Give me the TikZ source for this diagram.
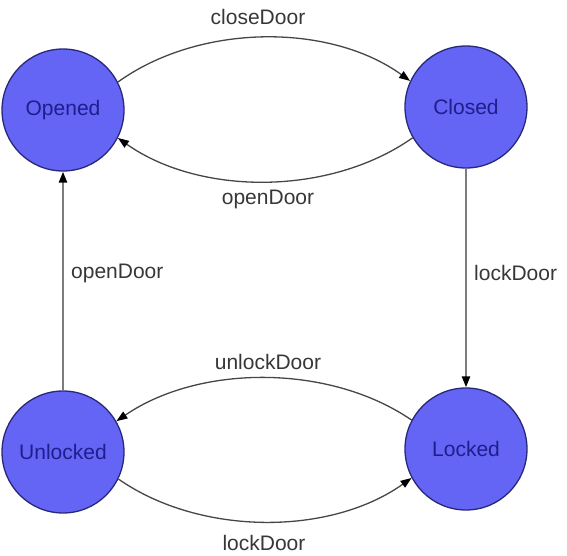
\documentclass[tikz,border=0pt]{standalone}
\usepackage{fontspec}
\setmainfont{Liberation Sans}
\usetikzlibrary{arrows.meta}
\definecolor{statefill}{RGB}{100,100,245}
\definecolor{stateedge}{RGB}{40,40,120}
\definecolor{statetext}{RGB}{30,30,140}
\definecolor{arcline}{RGB}{70,70,70}
\definecolor{vline}{RGB}{125,125,125}
\definecolor{labeltext}{RGB}{55,55,55}
\tikzset{
  statenode/.style={circle, draw=stateedge, line width=1.3pt, fill=statefill,
    minimum size=122pt, inner sep=0pt, text=statetext, font=\fontsize{21}{24}\selectfont},
  arcconn/.style={draw=arcline, line width=1.3pt, -{Triangle[length=11pt,width=8pt,color=black]}},
  vconn/.style={draw=vline, line width=2.4pt, -{Triangle[length=11pt,width=8pt,color=black]}},
  tlabel/.style={text=labeltext, font=\fontsize{21}{24}\selectfont, inner sep=0pt}
}
\begin{document}
\begin{tikzpicture}[x=1pt,y=-1pt]
\useasboundingbox (0,0) rectangle (567,556);
\node[statenode] (Opened) at (63,110) {Opened};
\node[statenode] (Closed) at (466,107) {Closed};
\node[statenode] (Unlocked) at (63,452) {Unlocked};
\node[statenode] (Locked) at (466,449) {Locked};

\draw[arcconn] (Opened.27) .. controls (200,23) and (330,23) .. (Closed.155);
\draw[arcconn] (Closed.210) .. controls (330,196) and (200,196) .. (Opened.-27);
\draw[arcconn] (Locked.152) .. controls (330,364) and (200,364) .. (Unlocked.30);
\draw[arcconn] (Unlocked.-26) .. controls (200,536) and (330,536) .. (Locked.-152);
\draw[vconn] (Unlocked.north) -- (Opened.south);
\draw[vconn] (Closed.south) -- (Locked.north);

\node[tlabel] (l1) at (258,17) {closeDoor};
\node[tlabel] (l2) at (268,199) {openDoor};
\node[tlabel, anchor=west] (l3) at (71,273) {openDoor};
\node[tlabel, anchor=west] (l4) at (474,273) {lockDoor};
\node[tlabel] (l5) at (268,362) {unlockDoor};
\node[tlabel] (l6) at (264,543) {lockDoor};
\end{tikzpicture}
\end{document}
